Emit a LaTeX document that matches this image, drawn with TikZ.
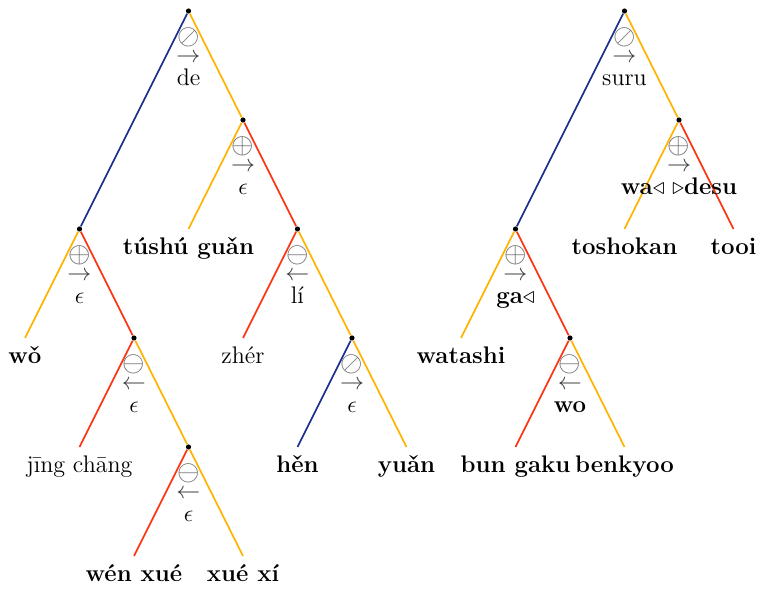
\documentclass[tikz,border=0pt]{standalone}
\usepackage{amsmath,amssymb}
\usetikzlibrary{positioning}
\definecolor{treeblue}{RGB}{28,48,140}
\definecolor{treeorange}{RGB}{255,178,0}
\definecolor{treered}{RGB}{255,50,16}
\definecolor{opgray}{RGB}{105,105,105}
\definecolor{arrgray}{RGB}{60,60,60}
% symbol, arrow and label under an internal node
\newcommand\opstack[4]{%
  \node[opnode] (#1-op) at ([yshift=-37.5pt]#1) {\begin{tabular}[b]{@{}c@{}}%
    \textcolor{opgray}{\fontsize{14}{16}\selectfont$#2$}\\[-4.75pt]%
    \textcolor{arrgray}{$#3$}\\[-2.5pt]#4\end{tabular}};
}

\begin{document}
\begin{tikzpicture}[x=27.25pt,y=-54.5pt,font=\fontsize{12}{14}\selectfont,
  dot/.style={circle,fill=black,inner sep=0pt,minimum size=2.6pt},
  bl/.style={treeblue,line width=0.8pt},
  ye/.style={treeorange,line width=0.8pt},
  rd/.style={treered,line width=0.8pt},
  leaf/.style={anchor=base,font=\fontsize{12}{14}\selectfont\bfseries},
  leafplain/.style={anchor=base},
  opnode/.style={anchor=base,inner sep=0pt}]
  \useasboundingbox (-0.4587,-0.1009) rectangle (13.4312,5.3028);

  % left tree
  \node[dot] (L0) at (3,0) {};
  \node[dot] (L1) at (4,1) {};
  \node[dot] (La) at (1,2) {};
  \node[dot] (L2) at (5,2) {};
  \node[dot] (Lb) at (2,3) {};
  \node[dot] (Lc) at (6,3) {};
  \node[dot] (Ld) at (3,4) {};
  \coordinate (tushu) at (3,2); \coordinate (wo) at (0,3); \coordinate (zher) at (4,3);
  \coordinate (jing) at (1,4); \coordinate (hen) at (5,4); \coordinate (yuan) at (7,4);
  \coordinate (wen) at (2,5); \coordinate (xuexi) at (4,5);
  \draw[bl] (L0)--(La); \draw[ye] (L0)--(L1);
  \draw[ye] (L1)--(tushu); \draw[rd] (L1)--(L2);
  \draw[ye] (La)--(wo); \draw[rd] (La)--(Lb);
  \draw[rd] (Lb)--(jing); \draw[ye] (Lb)--(Ld);
  \draw[rd] (Ld)--(wen); \draw[ye] (Ld)--(xuexi);
  \draw[rd] (L2)--(zher); \draw[ye] (L2)--(Lc);
  \draw[bl] (Lc)--(hen); \draw[ye] (Lc)--(yuan);
  \node[leaf] (tushu-t) at ([yshift=-13pt]tushu) {túshú guǎn};
  \node[leaf] (wo-t) at ([yshift=-13pt]wo) {wǒ};
  \node[leafplain] (zher-t) at ([yshift=-13pt]zher) {zhér};
  \node[leafplain] (jing-t) at ([yshift=-13pt]jing) {jīng chāng};
  \node[leaf] (hen-t) at ([yshift=-13pt]hen) {hěn};
  \node[leaf] (yuan-t) at ([yshift=-13pt]yuan) {yuǎn};
  \node[leaf] (wen-t) at ([yshift=-13pt]wen) {wén xué};
  \node[leaf] (xuexi-t) at ([yshift=-13pt]xuexi) {xué xí};
  \opstack{L0}{\oslash}{\rightarrow}{de}
  \opstack{L1}{\oplus}{\rightarrow}{$\epsilon$}
  \opstack{La}{\oplus}{\rightarrow}{$\epsilon$}
  \opstack{Lb}{\ominus}{\leftarrow}{$\epsilon$}
  \opstack{Ld}{\ominus}{\leftarrow}{$\epsilon$}
  \opstack{L2}{\ominus}{\leftarrow}{lí}
  \opstack{Lc}{\oslash}{\rightarrow}{$\epsilon$}

  % right tree
  \node[dot] (R0) at (11,0) {};
  \node[dot] (R1) at (12,1) {};
  \node[dot] (Ra) at (9,2) {};
  \node[dot] (Rb) at (10,3) {};
  \coordinate (tosho) at (11,2); \coordinate (tooi) at (13,2); \coordinate (watashi) at (8,3);
  \coordinate (bun) at (9,4); \coordinate (benkyoo) at (11,4);
  \draw[bl] (R0)--(Ra); \draw[ye] (R0)--(R1);
  \draw[ye] (R1)--(tosho); \draw[rd] (R1)--(tooi);
  \draw[ye] (Ra)--(watashi); \draw[rd] (Ra)--(Rb);
  \draw[rd] (Rb)--(bun); \draw[ye] (Rb)--(benkyoo);
  \node[leaf] (tosho-t) at ([yshift=-13pt]tosho) {toshokan};
  \node[leaf] (tooi-t) at ([yshift=-13pt]tooi) {tooi};
  \node[leaf] (watashi-t) at ([yshift=-13pt]watashi) {watashi};
  \node[leaf] (bun-t) at ([yshift=-13pt]bun) {bun gaku};
  \node[leaf] (benkyoo-t) at ([yshift=-13pt]benkyoo) {benkyoo};
  \opstack{R0}{\oslash}{\rightarrow}{suru}
  \opstack{R1}{\oplus}{\rightarrow}{\textbf{wa}$\triangleleft$\ $\triangleright$\textbf{desu}}
  \opstack{Ra}{\oplus}{\rightarrow}{\textbf{ga}$\triangleleft$}
  \opstack{Rb}{\ominus}{\leftarrow}{\textbf{wo}}
\end{tikzpicture}
\end{document}
